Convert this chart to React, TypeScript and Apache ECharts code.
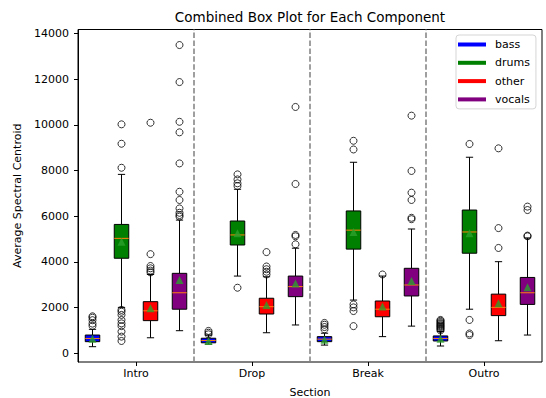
import { useEffect, useRef } from 'react';
import * as echarts from 'echarts';

const sections = ['Intro', 'Drop', 'Break', 'Outro'];
const components = ['bass', 'drums', 'other', 'vocals'];
const componentColors = ['blue', 'green', 'red', 'purple'];
const yTicks = [0, 2000, 4000, 6000, 8000, 10000, 12000, 14000];
const separators = [4.5, 8.5, 12.5];

// per section: [lowWhisker, q1, median, q3, highWhisker]
const bassBoxes = [
  [290, 510, 650, 800, 1050],
  [400, 460, 560, 660, 800],
  [360, 510, 620, 730, 880],
  [320, 540, 650, 760, 950],
];
const bassMeans = [640, 540, 590, 640];
const bassOutliers = [
  [1200, 1300, 1450, 1560, 1620],
  [830, 900, 980],
  [1050, 1150, 1250, 1330],
  [1000, 1060, 1100, 1150, 1190, 1230, 1280, 1320, 1370, 1420, 1460],
];

const drumsBoxes = [
  [2010, 4160, 5030, 5640, 7830],
  [3380, 4740, 5180, 5790, 7180],
  [2330, 4560, 5390, 6230, 8360],
  [1930, 4380, 5310, 6270, 8580],
];
const drumsMeans = [4880, 5250, 5310, 5250];
const drumsOutliers = [
  [10020, 9170, 8120, 1900, 1820, 1680, 1460, 1310, 1190, 950, 730, 540],
  [7830, 7610, 7440, 7320, 2870],
  [9300, 8920, 2140, 2010, 1850, 1190],
  [9160, 1460, 870, 800],
];

const otherBoxes = [
  [680, 1430, 1860, 2260, 3450],
  [900, 1720, 2040, 2410, 3350],
  [730, 1600, 1930, 2290, 3380],
  [550, 1650, 2010, 2590, 4010],
];
const otherMeans = [1970, 2110, 2050, 2190];
const otherOutliers = [
  [10090, 4340, 3820, 3720, 3620, 3540],
  [4430, 3800, 3680, 3570, 3450],
  [3450],
  [8970, 5480, 4610],
];

const vocalsBoxes = [
  [990, 1930, 2650, 3500, 5830],
  [1240, 2480, 2920, 3380, 4600],
  [1190, 2510, 2990, 3720, 5440],
  [800, 2140, 2650, 3320, 5050],
];
const vocalsMeans = [3210, 3060, 3160, 2890];
const vocalsOutliers = [
  [13490, 11870, 10130, 9670, 8310, 7070, 6710, 6340, 6150, 6050, 5980],
  [10780, 7410, 5180, 5120, 4770],
  [10400, 7980, 7030, 6710, 5930, 5870],
  [6420, 6270, 5150, 5120],
];

const allBoxes = [bassBoxes, drumsBoxes, otherBoxes, vocalsBoxes];
const allMeans = [bassMeans, drumsMeans, otherMeans, vocalsMeans];
const allOutliers = [bassOutliers, drumsOutliers, otherOutliers, vocalsOutliers];

const FONT = 'DejaVu Sans';

export default function App() {
  const ref = useRef<HTMLDivElement>(null);

  useEffect(() => {
    if (!ref.current) return;
    const chart = echarts.init(ref.current, null, { renderer: 'svg' });

    const pos = (s: number, c: number) => s * 4 + c + 1;

    const boxSeries = components.map((name, c) => ({
      name,
      type: 'custom',
      xAxisIndex: 0,
      yAxisIndex: 0,
      z: 2,
      itemStyle: { color: componentColors[c] },
      encode: { x: 0, y: [1, 2, 3, 4, 5] },
      data: allBoxes[c].map((b, s) => [pos(s, c), ...b]),
      renderItem: (params: any, api: any) => {
        const x = api.value(0);
        const lo = api.coord([x, api.value(1)]);
        const q1 = api.coord([x, api.value(2)]);
        const md = api.coord([x, api.value(3)]);
        const q3 = api.coord([x, api.value(4)]);
        const hi = api.coord([x, api.value(5)]);
        const w = api.size([0.5, 0])[0];
        const cx = lo[0];
        const st = { stroke: '#000', lineWidth: 1, fill: 'none' };
        return {
          type: 'group',
          children: [
            { type: 'line', shape: { x1: cx, y1: q1[1], x2: cx, y2: lo[1] }, style: st },
            { type: 'line', shape: { x1: cx, y1: q3[1], x2: cx, y2: hi[1] }, style: st },
            { type: 'line', shape: { x1: cx - w / 4, y1: lo[1], x2: cx + w / 4, y2: lo[1] }, style: st },
            { type: 'line', shape: { x1: cx - w / 4, y1: hi[1], x2: cx + w / 4, y2: hi[1] }, style: st },
            {
              type: 'rect',
              shape: { x: cx - w / 2, y: q3[1], width: w, height: q1[1] - q3[1] },
              style: { fill: componentColors[c], stroke: '#000', lineWidth: 1 },
            },
            {
              type: 'line',
              shape: { x1: cx - w / 2, y1: md[1], x2: cx + w / 2, y2: md[1] },
              style: { stroke: '#ff7f0e', lineWidth: 1 },
            },
          ],
        };
      },
    }));

    const outlierData: number[][] = [];
    const meanData: number[][] = [];
    components.forEach((_, c) => {
      sections.forEach((__, s) => {
        allOutliers[c][s].forEach((v) => outlierData.push([pos(s, c), v]));
        meanData.push([pos(s, c), allMeans[c][s]]);
      });
    });

    chart.setOption({
      animation: false,
      grid: {
        left: 78,
        right: 4,
        top: 29.5,
        bottom: 36,
        show: true,
        borderColor: '#000',
        borderWidth: 1,
        backgroundColor: 'transparent',
        containLabel: false,
        outerBoundsMode: 'none',
      },
      graphic: [
        {
          type: 'text',
          x: 310,
          y: 17,
          style: {
            text: 'Combined Box Plot for Each Component',
            font: `13.5px ${FONT}`,
            fill: '#000',
            textAlign: 'center',
            textVerticalAlign: 'middle',
          },
        },
      ],
      legend: {
        orient: 'vertical',
        left: 456,
        top: 35,
        padding: [4, 6, 4, 2],
        itemWidth: 28,
        itemHeight: 4,
        itemGap: 7.3,
        icon: 'rect',
        backgroundColor: '#fff',
        borderColor: '#d5d5d5',
        borderWidth: 1,
        borderRadius: 3,
        textStyle: { fontFamily: FONT, fontSize: 11, color: '#000', padding: [0, 0, 0, 4] },
        data: components.map((name, c) => ({ name, itemStyle: { color: componentColors[c] } })),
      },
      xAxis: [
        {
          type: 'value',
          min: 0.5,
          max: 16.5,
          show: false,
          splitLine: { show: false },
        },
        {
          type: 'category',
          position: 'bottom',
          data: sections,
          boundaryGap: true,
          axisLine: { show: false },
          axisTick: { show: true, alignWithLabel: true, length: 4, lineStyle: { color: '#000' } },
          axisLabel: { fontFamily: FONT, fontSize: 11, color: '#000', margin: 6 },
          splitLine: { show: false },
          name: 'Section',
          nameLocation: 'middle',
          nameGap: 25,
          nameTextStyle: { fontFamily: FONT, fontSize: 11, color: '#000' },
        },
      ],
      yAxis: {
        type: 'value',
        min: -380,
        max: 14170,
        splitLine: { show: false },
        axisLine: { show: true, lineStyle: { color: '#000' } },
        axisTick: { show: true, length: 4, customValues: yTicks, lineStyle: { color: '#000' } },
        axisLabel: {
          fontFamily: FONT,
          fontSize: 11,
          color: '#000',
          margin: 9,
          customValues: yTicks,
          formatter: (v: number) => String(v),
        },
        name: 'Average Spectral Centroid',
        nameLocation: 'middle',
        nameGap: 50,
        nameTextStyle: { fontFamily: FONT, fontSize: 11, color: '#000' },
      },
      series: [
        ...boxSeries,
        {
          type: 'scatter',
          name: 'outliers',
          xAxisIndex: 0,
          yAxisIndex: 0,
          z: 3,
          symbol: 'circle',
          symbolSize: 7,
          itemStyle: { color: 'transparent', borderColor: '#000', borderWidth: 1 },
          data: outlierData,
          markLine: {
            silent: true,
            symbol: ['none', 'none'],
            label: { show: false },
            lineStyle: { type: [5.5, 2.4], color: 'gray', width: 1.5 },
            data: separators.map((x) => ({ xAxis: x })),
          },
        },
        {
          type: 'scatter',
          name: 'means',
          xAxisIndex: 0,
          yAxisIndex: 0,
          z: 4,
          symbol: 'triangle',
          symbolSize: 8,
          itemStyle: { color: '#2ca02c' },
          data: meanData,
        },
      ],
    });

    return () => chart.dispose();
  }, []);

  return (
    <div
      ref={ref}
      style={{ position: 'absolute', left: 0, top: 0, width: 546, height: 398 }}
    />
  );
}
